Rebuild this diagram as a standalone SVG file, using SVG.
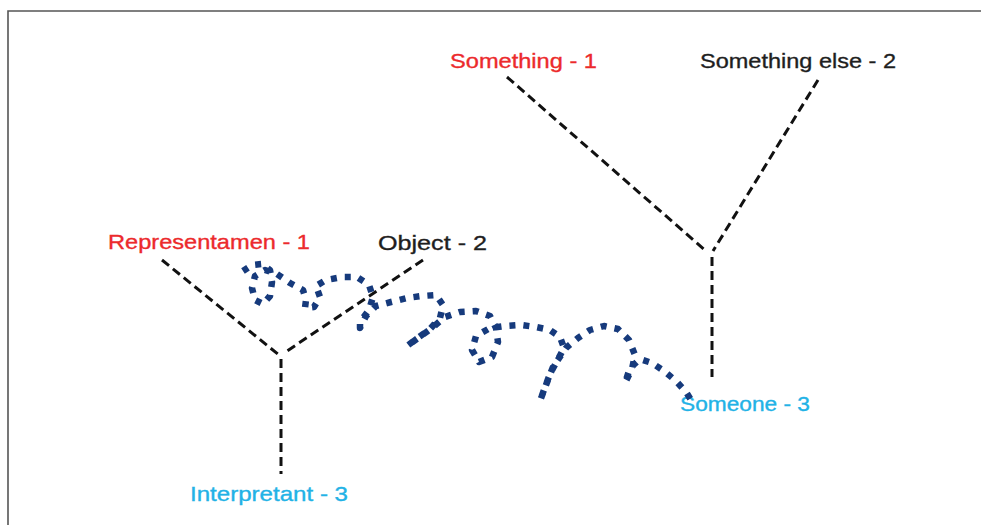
<svg xmlns="http://www.w3.org/2000/svg" width="981" height="525" viewBox="0 0 981 525">
<style>
.lbl{font-family:"Liberation Sans",Arial,sans-serif;font-size:21px;stroke-width:0.35;}
.red{fill:#ec2a2c;stroke:#ec2a2c;}
.blk{fill:#1e1e1e;stroke:#1e1e1e;}
.cyan{fill:#22b2e6;stroke:#22b2e6;}
.dash{fill:none;stroke:#111;stroke-width:3;stroke-dasharray:9 5;}
.frame{fill:none;stroke:#555;stroke-width:1.6;}
.squig{fill:none;stroke:#163a7c;stroke-width:6.5;stroke-dasharray:6 8;stroke-linejoin:round;}
</style>
<rect x="0" y="0" width="981" height="525" fill="#ffffff"/>
<path class="frame" d="M8,525 L8,11 L981,11"/>
<g id="connectors">
<line class="dash" x1="162" y1="260" x2="279" y2="355"/>
<line class="dash" x1="423" y1="260" x2="287" y2="351"/>
<line class="dash" x1="281" y1="359" x2="281" y2="474"/>
<line class="dash" x1="507" y1="77" x2="706" y2="251"/>
<line class="dash" x1="818" y1="80" x2="713" y2="251"/>
<line class="dash" x1="712" y1="257" x2="712" y2="377"/>
</g>
<g id="node-representamen"><text class="lbl red" x="108" y="249" textLength="202" lengthAdjust="spacingAndGlyphs">Representamen - 1</text></g>
<g id="node-object"><text class="lbl blk" x="378" y="250" textLength="109" lengthAdjust="spacingAndGlyphs">Object - 2</text></g>
<g id="node-interpretant"><text class="lbl cyan" x="190" y="501" textLength="158" lengthAdjust="spacingAndGlyphs">Interpretant - 3</text></g>
<g id="node-something"><text class="lbl red" x="450" y="68" textLength="147" lengthAdjust="spacingAndGlyphs">Something - 1</text></g>
<g id="node-something-else"><text class="lbl blk" x="700" y="68" textLength="196" lengthAdjust="spacingAndGlyphs">Something else - 2</text></g>
<g id="node-someone"><text class="lbl cyan" x="680" y="411" textLength="130" lengthAdjust="spacingAndGlyphs">Someone - 3</text></g>
<g id="squiggle">
<path class="squig" d="M243,271 L252,265 L262,264 L270,270 L272,282 L270,296 L263,304 L255,300 L252,288 L255,276 L265,270 L277,274 L290,283 L303,290 L306,300 L305,308 L314,307 L320,297 L316,286 L326,280 L342,277 L357,277 L369,285 L373,297 L369,310 L360,322 L360,328 L366,316 L376,306 L391,302 L407,298 L422,296 L436,295 L443,305 L440,318 L430,329 L419,337 L407,346 L418,338 L432,328 L445,317 L460,312 L476,311 L490,316 L496,328 L498,342 L492,357 L479,362 L472,350 L476,336 L490,328 L505,326 L521,325 L536,327 L550,330 L560,337 L564,348 L557,361 L550,374 L545,387 L540,401 L546,385 L553,367 L566,348 L578,338 L590,330 L604,326 L618,329 L629,340 L635,355 L632,369 L625,383 L630,368 L640,359 L652,363 L664,371 L676,381 L686,392 L693,403"/>
</g>
</svg>
